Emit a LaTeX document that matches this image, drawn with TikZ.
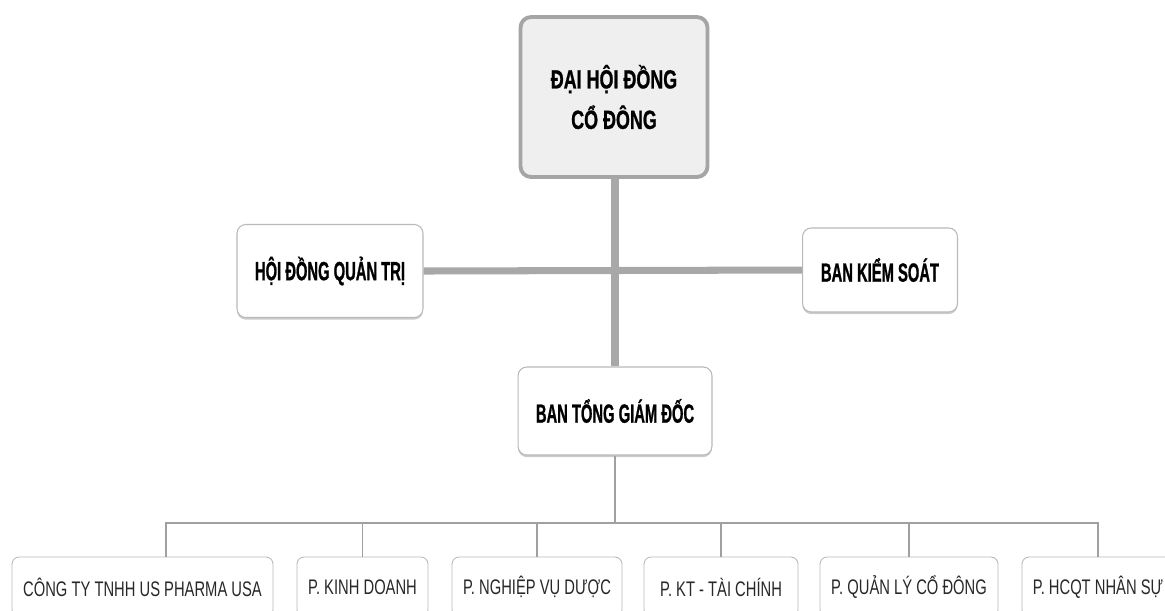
\documentclass[tikz,border=0pt]{standalone}
\usepackage{fontspec}
\setmainfont{Liberation Sans}
\newfontfamily\topfont[FakeStretch=0.68,FakeBold=0.8]{Liberation Sans}
\newfontfamily\headfont[FakeStretch=0.56,FakeBold=0.8]{Liberation Sans}
\newfontfamily\deptfont[FakeStretch=0.7]{Liberation Sans}
\definecolor{TitleFill}{RGB}{239,239,239}
\definecolor{TitleBorder}{RGB}{165,165,165}
\definecolor{BoxBorder}{RGB}{185,185,185}
\definecolor{ThickGray}{RGB}{168,168,168}
\definecolor{ThinGray}{RGB}{160,160,160}
\definecolor{DeptText}{RGB}{40,40,40}
\usetikzlibrary{shadows, calc}

\begin{document}
\begin{tikzpicture}[x=0.02cm,y=-0.02cm,
        topbox/.style={rounded corners=6pt,draw=TitleBorder,line width=2.2pt,fill=TitleFill,
                       minimum width=3.74cm,minimum height=3.2cm,align=center,
                       font=\topfont\bfseries\fontsize{15}{23}\selectfont},
        midbox/.style={rounded corners=5pt,draw=BoxBorder,line width=0.6pt,fill=white,
                       drop shadow={shadow xshift=0pt,shadow yshift=-1.2pt,fill=black!40,opacity=0.5},
                       font=\headfont\bfseries\fontsize{15}{17}\selectfont},
        dept/.style={rounded corners=4pt,draw=BoxBorder,line width=0.5pt,fill=white,
                     minimum height=1.2cm,text=DeptText,
                     font=\deptfont\fontsize{12}{14}\selectfont},
        thickln/.style={draw=ThickGray,line width=4pt},
        thinln/.style={draw=ThinGray,line width=0.8pt}]
        \useasboundingbox (0,0) rectangle (1165,610);
        \clip (0,0) rectangle (1165,610);

        \node[topbox] (dhcd) at (614,97) {ĐẠI HỘI ĐỒNG\\CỔ ĐÔNG};
        \node[midbox,minimum width=3.72cm,minimum height=1.86cm] (hdqt) at (330,271) {HỘI ĐỒNG QUẢN TRỊ};
        \node[midbox,minimum width=3.1cm,minimum height=1.68cm] (bks) at (880,270) {BAN KIỂM SOÁT};
        \node[midbox,minimum width=3.88cm,minimum height=1.76cm] (btgd) at (615,411) {BAN TỔNG GIÁM ĐỐC};

        \node[dept,minimum width=5.22cm] (c1) at (142.5,587) {CÔNG TY TNHH US PHARMA USA};
        \node[dept,minimum width=2.62cm] (c2) at (362.5,587) {P. KINH DOANH};
        \node[dept,minimum width=3.4cm]  (c3) at (537,587)   {P. NGHIỆP VỤ DƯỢC};
        \node[dept,minimum width=3.08cm] (c4) at (721,587)   {P. KT - TÀI CHÍNH};
        \node[dept,minimum width=3.56cm] (c5) at (909,587)   {P. QUẢN LÝ CỔ ĐÔNG};
        \node[dept,minimum width=3.04cm] (c6) at (1098,587)  {P. HCQT NHÂN SỰ};

        % upper connectors
        \draw[thickln] (btgd.north) -- (btgd.north |- dhcd.south);
        \draw[thickln] (hdqt.east) -- (bks.west);

        % lower bus
        \coordinate (bus) at (616,523);
        \coordinate (c1top) at (166,557);
        \draw[thinln] (btgd.south) -- (btgd.south |- bus);
        \draw[thinln] (c1top) |- (bus -| c6.north) -- (c6.north);
        \foreach \c in {c2,c3,c4,c5}
          \draw[thinln] (\c.north) -- (\c.north |- bus);
      \end{tikzpicture}
\end{document}
